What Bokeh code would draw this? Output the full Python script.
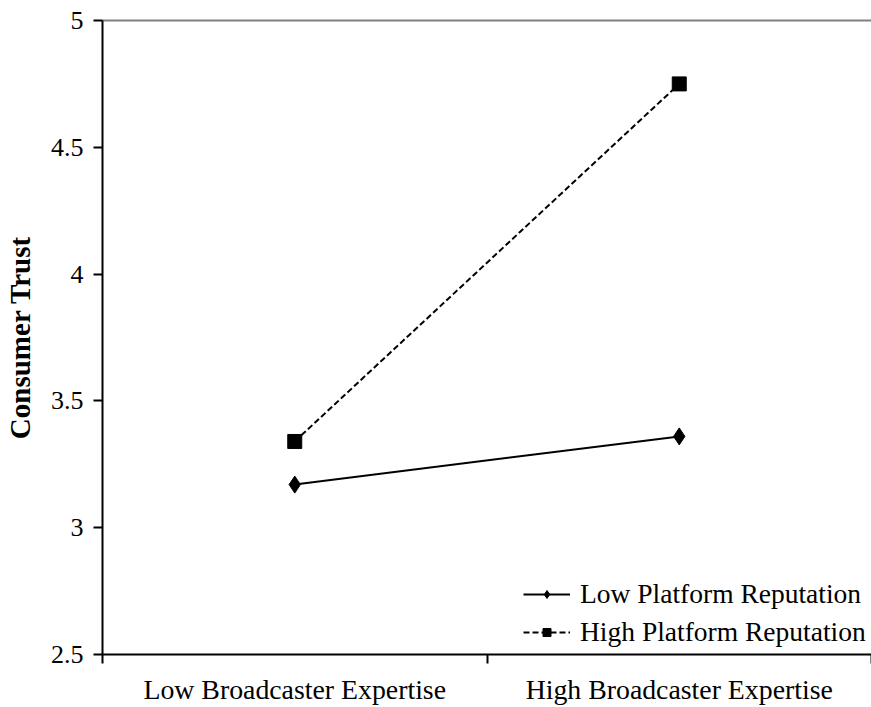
from bokeh.plotting import figure
from bokeh.models import (Range1d, LinearAxis, FixedTicker, Legend, LegendItem,
                          CustomJSTickFormatter)
from bokeh.embed import file_html
from bokeh.resources import INLINE

# ---- data ----
categories = ["Low Broadcaster Expertise", "High Broadcaster Expertise"]
low_reputation = [3.17, 3.36]
high_reputation = [3.34, 4.75]
series_names = ["Low Platform Reputation", "High Platform Reputation"]
y_ticks = [2.5, 3, 3.5, 4, 4.5, 5]
y_title = "Consumer Trust"

FONT = "Liberation Serif"

n = len(categories)
x_centers = [i + 0.5 for i in range(n)]
x_bounds = list(range(n + 1))

p = figure(width=871, height=707, output_backend="svg", toolbar_location=None,
           x_range=Range1d(0, n), y_range=Range1d(2.5, 5),
           x_axis_location=None, y_axis_location=None,
           min_border_left=100, min_border_right=0, min_border_top=20, min_border_bottom=50)
p.outline_line_color = None
p.grid.visible = False
p.background_fill_color = "white"

# y axis
yax = LinearAxis(ticker=FixedTicker(ticks=y_ticks),
                 formatter=CustomJSTickFormatter(code="return tick.toString();"))
yax.axis_line_color = "black"
yax.axis_line_width = 2
yax.major_tick_line_width = 2
yax.major_tick_in = 0
yax.major_tick_out = 9
yax.minor_tick_line_color = None
yax.major_label_text_font = FONT
yax.major_label_text_font_size = "26px"
yax.major_label_text_color = "black"
yax.major_label_standoff = 10
yax.axis_label = y_title
yax.axis_label_text_font = FONT
yax.axis_label_text_font_style = "bold"
yax.axis_label_text_font_size = "29px"
yax.axis_label_text_color = "black"
yax.axis_label_standoff = 12
p.add_layout(yax, "left")

# bottom axis with boundary ticks (no labels)
bax = LinearAxis(ticker=FixedTicker(ticks=x_bounds),
                 formatter=CustomJSTickFormatter(code="return '';"))
bax.axis_line_color = "black"
bax.axis_line_width = 2
bax.major_tick_line_width = 2
bax.major_tick_in = 0
bax.major_tick_out = 9
bax.minor_tick_line_color = None
bax.major_label_standoff = 0
p.add_layout(bax, "below")

# category labels
cax = LinearAxis(ticker=FixedTicker(ticks=x_centers),
                 formatter=CustomJSTickFormatter(args=dict(labels=categories),
                                                 code="return labels[Math.floor(tick)];"))
cax.axis_line_color = None
cax.major_tick_line_color = None
cax.minor_tick_line_color = None
cax.major_label_text_font = FONT
cax.major_label_text_font_size = "27.8px"
cax.major_label_text_color = "black"
cax.major_label_standoff = 4
p.add_layout(cax, "below")

# top gray line
tax = LinearAxis(ticker=FixedTicker(ticks=[]))
tax.axis_line_color = "#808080"
tax.axis_line_width = 2
tax.major_tick_line_color = None
tax.minor_tick_line_color = None
p.add_layout(tax, "above")

# series
l1 = p.line(x_centers, low_reputation, line_color="black", line_width=2)
s1 = p.scatter(x_centers, low_reputation, marker="diamond", size=17, color="black")
l2 = p.line(x_centers, high_reputation, line_color="black", line_width=2, line_dash="6 3")
s2 = p.scatter(x_centers, high_reputation, marker="square", size=14, color="black")

legend = Legend(items=[LegendItem(label=series_names[0], renderers=[l1, s1]),
                       LegendItem(label=series_names[1], renderers=[l2, s2])],
                location=(421, 6))
legend.border_line_color = None
legend.background_fill_alpha = 0
legend.label_text_font = FONT
legend.label_text_font_size = "27.5px"
legend.label_text_color = "black"
legend.glyph_width = 47
legend.label_standoff = 10
legend.spacing = 6
legend.margin = 0
legend.padding = 6
p.add_layout(legend)

open("out.html", "w").write(file_html(p, INLINE))
